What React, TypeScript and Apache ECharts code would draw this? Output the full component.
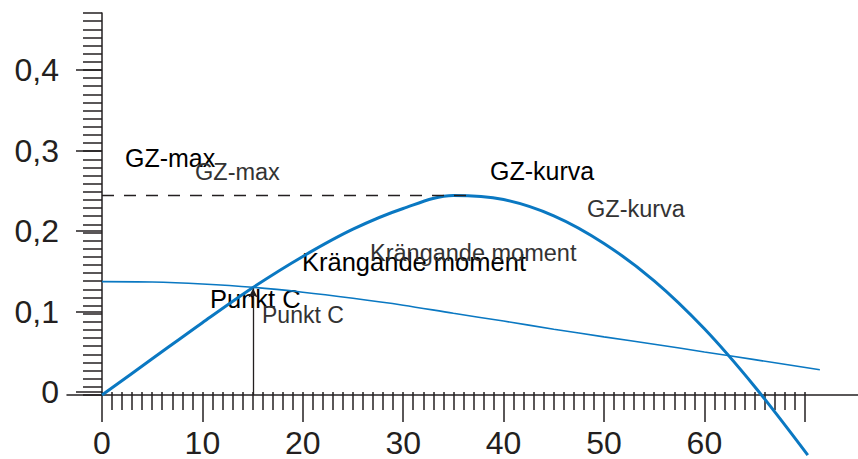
import React, { useEffect, useRef } from "react";
import * as echarts from "echarts";

// GZ curve (righting lever)
const gzAngles = [0, 5, 10, 15, 20, 25, 30, 35, 40, 45, 50, 55, 60, 65, 70.3];
const gzValues = [0, 0.0445, 0.089, 0.132, 0.1705, 0.204, 0.2295, 0.2455, 0.2405, 0.2205, 0.1865, 0.1405, 0.0815, 0.0105, -0.074];

// Heeling moment curve
const heelAngles = [0, 5, 10, 15, 20, 25, 30, 35, 40, 45, 50, 55, 60, 65, 71.5];
const heelValues = [0.1395, 0.139, 0.1365, 0.1325, 0.1265, 0.119, 0.1105, 0.1005, 0.091, 0.081, 0.0715, 0.0625, 0.053, 0.0435, 0.031];

// Annotated values
const gzMax = 0.2462;
const gzMaxAngle = 36.8;
const pointCAngle = 15.05;
const pointCValue = 0.131;

const xTickInterval = 10;
const yTickInterval = 0.1;
const xLabelMax = 60;

const AXIS = "#231f20";
const BLUE = "#0a78c2";
const FONT = "Liberation Sans, Arial, sans-serif";

const labels = [
  { text: "GZ-max", x: 125, y: 158, size: 25, color: "#000" },
  { text: "GZ-max", x: 195, y: 172, size: 23.5, color: "#333" },
  { text: "GZ-kurva", x: 490, y: 171, size: 25, color: "#000" },
  { text: "GZ-kurva", x: 587, y: 209, size: 23.5, color: "#333" },
  { text: "Krängande moment", x: 302, y: 262, size: 25.5, color: "#000" },
  { text: "Krängande moment", x: 370, y: 252.5, size: 23.5, color: "#333" },
  { text: "Punkt C", x: 210, y: 299, size: 25.5, color: "#000" },
  { text: "Punkt C", x: 262, y: 315, size: 23, color: "#333" },
];

export default function App() {
  const ref = useRef<HTMLDivElement>(null);
  useEffect(() => {
    const chart = echarts.init(ref.current!, null, { renderer: "svg" });
    const tickStyle = { color: AXIS, width: 1.5 };
    const option: any = {
      animation: false,
      backgroundColor: "#fff",
      grid: [
        { left: 67, top: 13, width: 791, height: 382 },
        { left: 102, top: 70, width: 702.8, height: 325 },
      ],
      xAxis: [
        {
          gridIndex: 0,
          type: "value",
          min: -3.486,
          max: 75.3,
          axisLine: { show: true, onZero: true, lineStyle: tickStyle },
          axisTick: { show: false },
          axisLabel: { show: false },
          splitLine: { show: false },
        },
        {
          gridIndex: 1,
          type: "value",
          min: 0,
          max: 70,
          interval: xTickInterval,
          axisLine: { show: false },
          axisTick: { show: true, length: 30, lineStyle: tickStyle },
          minorTick: { show: true, splitNumber: 10, length: 18, lineStyle: tickStyle },
          axisLabel: {
            fontSize: 32,
            color: AXIS,
            margin: 35,
            fontFamily: FONT,
            formatter: (v: number) => (v > xLabelMax ? "" : String(v)),
          },
          splitLine: { show: false },
          minorSplitLine: { show: false },
        },
      ],
      yAxis: [
        {
          gridIndex: 0,
          type: "value",
          min: 0,
          max: 0.47,
          interval: 0.01,
          axisLine: { show: true, onZero: true, lineStyle: tickStyle },
          axisTick: { show: true, length: 19, lineStyle: tickStyle },
          axisLabel: { show: false },
          splitLine: { show: false },
        },
        {
          gridIndex: 1,
          type: "value",
          min: 0,
          max: 0.4,
          interval: yTickInterval,
          axisLine: { show: false },
          axisTick: { show: true, length: 26, lineStyle: tickStyle },
          axisLabel: {
            fontSize: 32,
            color: AXIS,
            margin: 43,
            fontFamily: FONT,
            formatter: (v: number) => (v === 0 ? "0" : v.toFixed(1).replace(".", ",")),
          },
          splitLine: { show: false },
        },
      ],
      series: [
        {
          type: "line",
          xAxisIndex: 0,
          yAxisIndex: 0,
          data: gzAngles.map((a, i) => [a, gzValues[i]]),
          smooth: 0.33,
          showSymbol: false,
          clip: false,
          lineStyle: { color: BLUE, width: 3 },
          markLine: {
            silent: true,
            symbol: ["none", "none"],
            label: { show: false },
            lineStyle: { color: AXIS, width: 1.3, type: [12, 10] },
            data: [[{ coord: [0, gzMax] }, { coord: [gzMaxAngle, gzMax] }]],
          },
        },
        {
          type: "line",
          xAxisIndex: 0,
          yAxisIndex: 0,
          data: heelAngles.map((a, i) => [a, heelValues[i]]),
          smooth: 0.33,
          showSymbol: false,
          clip: false,
          lineStyle: { color: BLUE, width: 1.6 },
          markLine: {
            silent: true,
            symbol: ["none", "arrow"],
            symbolSize: [7, 9],
            label: { show: false },
            lineStyle: { color: AXIS, width: 1.3, type: "solid" },
            data: [[{ coord: [pointCAngle, 0] }, { coord: [pointCAngle, pointCValue] }]],
          },
        },
      ],
      graphic: labels.map((l) => ({
        type: "text",
        x: l.x,
        y: l.y,
        silent: true,
        style: {
          text: l.text,
          fill: l.color,
          fontSize: l.size,
          fontFamily: FONT,
          verticalAlign: "middle",
          align: "left",
        },
      })),
    };
    chart.setOption(option);
    return () => chart.dispose();
  }, []);
  return (
    <div
      ref={ref}
      style={{ position: "fixed", left: 0, top: 0, width: 858, height: 459 }}
    />
  );
}
